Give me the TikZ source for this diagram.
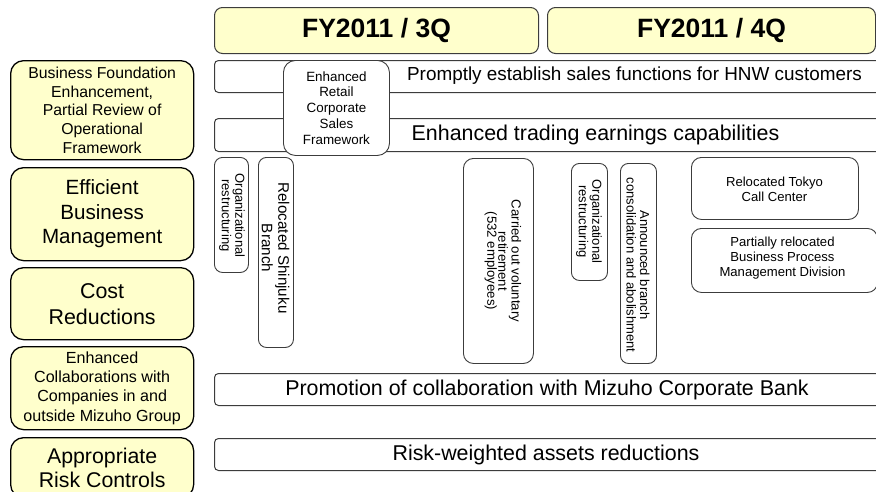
\documentclass[tikz,border=0pt]{standalone}
\usepackage{fontspec}
\setmainfont{Liberation Sans}
\definecolor{ylw}{RGB}{255,255,204}
\definecolor{edge}{RGB}{60,60,60}
\newcommand{\fs}[2]{\fontsize{#1}{#2}\selectfont}
\tikzset{
  theme/.style={draw=black, line width=1.3pt, fill=ylw, rounded corners=13pt,
    inner sep=0pt, align=center, anchor=north west},
  quarter/.style={draw=edge, line width=1pt, fill=ylw, rounded corners=8pt,
    inner sep=0pt, anchor=north west, font=\fs{26.5}{29}\bfseries},
  bar/.style={draw=edge, line width=1pt, fill=white, rounded corners=4pt,
    inner sep=0pt, anchor=north west},
  item/.style={draw=edge, line width=0.9pt, fill=white, rounded corners=8pt,
    inner sep=0pt, anchor=north west},
  bartext/.style={font=\fs{21.4}{24}, inner sep=0pt},
  htext/.style={font=\fs{13.1}{15}, align=center, inner sep=0pt},
  vtext/.style={font=\fs{13}{13.6}, align=center, inner sep=0pt, rotate=-90},
}
\begin{document}
\begin{tikzpicture}[x=1pt,y=-1pt]
\useasboundingbox (0,0) rectangle (876,491);
\clip (0,0) rectangle (876,491);
\fill[white] (0,0) rectangle (876,491);

% quarter headers
\node[quarter, minimum width=324, minimum height=46] (q3) at (214,7) {FY2011 / 3Q};
\node[quarter, minimum width=328, minimum height=46] (q4) at (547,7) {FY2011 / 4Q};

% themes on the left
\node[theme, minimum width=183, minimum height=99, font=\fs{15.8}{18.8}] (t1) at (10,60)
  {Business Foundation\\Enhancement,\\Partial Review of\\Operational\\Framework};
\node[theme, minimum width=183, minimum height=93, font=\fs{20.6}{24.5}] (t2) at (10,167)
  {Efficient\\Business\\Management};
\node[theme, minimum width=183, minimum height=72, font=\fs{21.4}{26}] (t3) at (10,267)
  {Cost\\Reductions};
\node[theme, minimum width=183, minimum height=83, font=\fs{16.1}{19.3}] (t4) at (10,346)
  {Enhanced\\Collaborations with\\Companies in and\\outside Mizuho Group};
\node[theme, minimum width=183, minimum height=60, font=\fs{21.3}{24.3}] (t5) at (10,437)
  {Appropriate\\Risk Controls};

% long-running initiatives
\node[bar, minimum width=670, minimum height=32] (b1) at (214,60) {};
\node[bartext, font=\fs{18.9}{21}] (b1t) at (634.5,76) {Promptly establish sales functions for HNW customers};
\node[bar, minimum width=670, minimum height=33] (b2) at (214,118) {};
\node[bartext] (b2t) at (595.5,135) {Enhanced trading earnings capabilities};
\node[bar, minimum width=670, minimum height=32] (b3) at (214,373) {};
\node[bartext] (b3t) at (547,389.5) {Promotion of collaboration with Mizuho Corporate Bank};
\node[bar, minimum width=670, minimum height=32] (b4) at (214,438) {};
\node[bartext] (b4t) at (546,454.5) {Risk-weighted assets reductions};

% retail sales framework
\node[item, rounded corners=12pt, minimum width=106, minimum height=95] (rs) at (283,60) {};
\node[htext, font=\fs{13.4}{15.8}] at (rs.center) {Enhanced\\Retail\\Corporate\\Sales\\Framework};

% 3Q measures
\node[item, minimum width=34, minimum height=115] (o1) at (214,157) {};
\node[vtext] at (232,215.5) {Organizational\\restructuring};
\node[item, minimum width=35, minimum height=190] (sj) at (258,157) {};
\node[vtext, font=\fs{15.2}{16.5}] at (275.5,248) {Relocated Shinjuku\\Branch};
\node[item, rounded corners=10pt, minimum width=70, minimum height=205] (vr) at (463,158) {};
\node[vtext, font=\fs{13.2}{11}] at (503,261) {Carried out voluntary\\retirement\\(532 employees)};

% 4Q measures
\node[item, minimum width=36, minimum height=117] (o2) at (571,163) {};
\node[vtext] at (589,221.5) {Organizational\\restructuring};
\node[item, minimum width=36, minimum height=200] (bc) at (620,163) {};
\node[vtext] at (638,265) {Announced branch\\consolidation and abolishment};
\node[item, rounded corners=10pt, minimum width=167, minimum height=62] (cc) at (691,157) {};
\node[htext] at (774.5,189.5) {Relocated Tokyo\\Call Center};
\node[item, rounded corners=10pt, minimum width=186, minimum height=64] (bp) at (691,228) {};
\node[htext] at (782.5,258.5) {Partially relocated\\Business Process\\Management Division};
\end{tikzpicture}
\end{document}
